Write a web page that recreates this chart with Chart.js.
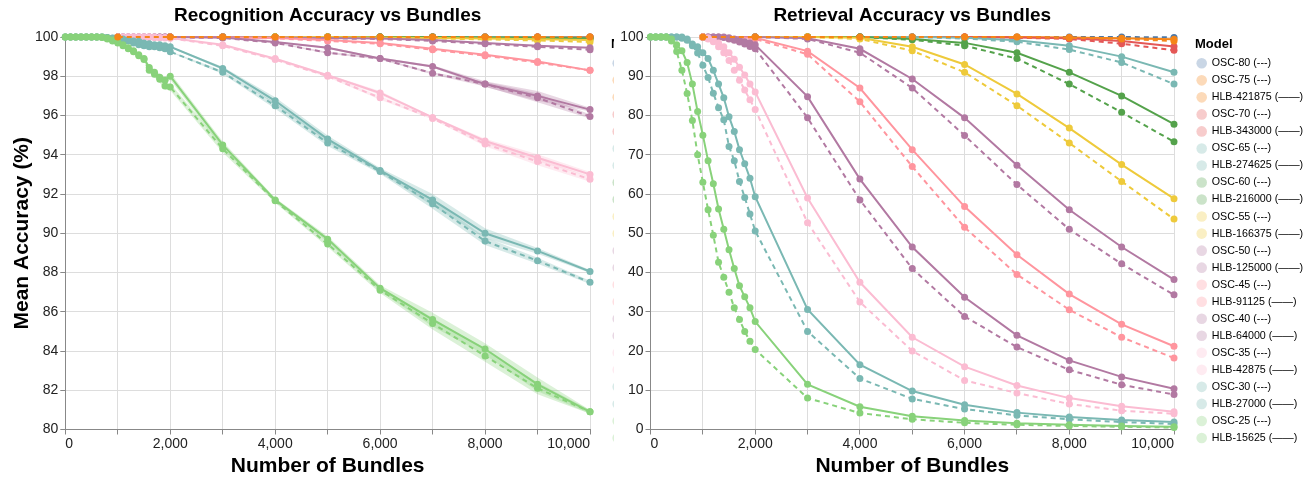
<!DOCTYPE html>
<html>
<head>
<meta charset="utf-8">
<script src="https://cdn.jsdelivr.net/npm/chart.js@4.4.1/dist/chart.umd.min.js"></script>
<style>
  html, body { margin: 0; padding: 0; background: #fff; }
  #wrap { position: relative; width: 1309px; height: 481px; }
  #rec { position: absolute; left: 0; top: 0; }
  #ret { position: absolute; left: 614px; top: 0; }
</style>
</head>
<body>
<div id="wrap">
  <canvas id="rec" width="614" height="481"></canvas>
  <canvas id="ret" width="695" height="481"></canvas>
</div>
<script>
// x positions (number of bundles)
const xDense = [0,100,200,300,400,500,600,700,800,900,1000,1100,1200,1300,1400,1500,1600,1700,1800,1900,2000,3000,4000,5000,6000,7000,8000,9000,10000];
const xMid = [1000,1100,1200,1300,1400,1500,1600,1700,1800,1900,2000,3000,4000,5000,6000,7000,8000,9000,10000];
const xCoarse = [1000,2000,3000,4000,5000,6000,7000,8000,9000,10000];

// recognition / retrieval accuracy (%)
const recOSC80 = [100,100,100,100,100,100,100,100,100,100];
const retOSC80 = [100,100,100,100,100,100,100,100,100,99.9];
const recOSC75 = [100,100,100,100,100,100,100,100,100,100];
const retOSC75 = [100,100,100,100,100,100,100,99.8,99.5,99.0];
const recHLB421875 = [100,100,100,100,100,100,100,100,100,100];
const retHLB421875 = [100,100,100,100,100,100,100,99.9,99.7,99.4];
const recOSC70 = [100,100,100,100,100,100,100,100,100,99.98];
const retOSC70 = [100,100,100,100,100,100,99.8,99.5,98.3,96.6];
const recHLB343000 = [100,100,100,100,100,100,100,100,100,100];
const retHLB343000 = [100,100,100,100,100,100,99.9,99.7,99.0,97.6];
const recOSC65 = [100,100,100,100,100,100,100,100,99.98,99.95];
const retOSC65 = [100,100,100,100,100,99.6,98.8,96.8,93.5,88.0];
const recHLB274625 = [100,100,100,100,100,100,100,100,99.99,99.97];
const retHLB274625 = [100,100,100,100,100,99.8,99.2,97.8,95.0,91.0];
const recOSC60 = [100,100,100,100,100,100,99.99,99.97,99.95,99.9];
const retOSC60 = [100,100,100,100,99.3,97.8,94.5,88.0,80.8,73.3];
const recHLB216000 = [100,100,100,100,100,100,100,99.98,99.96,99.93];
const retHLB216000 = [100,100,100,100,99.5,98.5,96.0,91.0,85.0,77.8];
const recOSC55 = [100,100,100,100,99.99,99.97,99.93,99.88,99.82,99.75];
const retOSC55 = [100,100,100,99.5,96.5,91.0,82.5,73.0,63.2,53.6];
const recHLB166375 = [100,100,100,100,100,99.98,99.95,99.92,99.88,99.85];
const retHLB166375 = [100,100,100,99.8,97.5,93.0,85.5,76.8,67.5,58.8];
const recOSC50 = [100,100,100,99.97,99.93,99.9,99.8,99.65,99.5,99.35];
const retOSC50 = [100,100,99.5,96.0,87.0,74.9,62.4,51.0,42.2,34.3];
const recHLB125000 = [100,100,100,99.98,99.95,99.92,99.85,99.7,99.55,99.45];
const retHLB125000 = [100,100,99.7,97.0,89.3,79.4,67.3,56.0,46.5,38.2];
const recOSC45 = [100,100,99.97,99.93,99.8,99.65,99.35,99.05,98.7,98.3];
const retOSC45 = [100,99.5,95.6,83.5,67.0,51.5,39.5,30.5,23.5,18.2];
const recHLB91125 = [100,100,99.98,99.95,99.85,99.7,99.4,99.1,98.75,98.3];
const retHLB91125 = [100,99.8,96.4,87.0,71.3,56.8,44.5,34.5,26.8,21.2];
const recOSC40 = [100,100,100,100,100,100,100,100,100,100,99.98,99.95,99.7,99.2,98.9,98.15,97.6,96.9,95.95];
const retOSC40 = [100,100,100,100,99.9,99.5,99.2,98.7,98.2,97.6,97.0,79.4,58.5,41.0,28.8,21.0,15.2,11.4,8.9];
const recHLB64000 = [100,100,100,100,100,100,100,100,100,100,100,99.98,99.75,99.45,98.9,98.5,97.6,97.0,96.3];
const retHLB64000 = [100,100,100,100,100,99.8,99.5,99.2,98.8,98.5,98.0,84.8,63.8,46.5,33.7,24.0,17.6,13.4,10.4];
const recOSC35 = [100,100,100,100,100,100,100,99.98,99.96,99.95,99.93,99.55,98.85,98.0,96.9,95.85,94.55,93.65,92.75];
const retOSC35 = [100,99.5,98.8,97.5,96.0,94.0,91.5,89.0,86.5,84.0,81.5,52.7,32.5,20.0,12.5,9.3,6.5,4.8,4.0];
const recHLB42875 = [100,100,100,100,100,100,100,100,99.98,99.97,99.95,99.6,98.9,98.05,97.15,95.9,94.7,93.85,93.0];
const retHLB42875 = [100,99.8,99.3,98.5,97.5,96.0,94.3,92.3,90.3,88.0,86.0,59.0,37.5,23.5,16.0,11.2,8.0,5.9,4.5];
const recOSC30 = [100,100,100,100,100,100,100,100,99.97,99.93,99.9,99.85,99.8,99.7,99.6,99.55,99.5,99.5,99.45,99.4,99.25,98.2,96.5,94.6,93.15,91.5,89.6,88.6,87.5];
const retOSC30 = [100,100,100,100,100,100,99.7,99.2,97.8,95.9,92.8,89.7,85.7,82.0,78.9,72.1,68.5,63.2,59.1,54.9,50.6,25.0,13.0,7.8,5.2,3.6,2.6,1.9,1.4];
const recHLB27000 = [100,100,100,100,100,100,100,100,99.98,99.95,99.92,99.9,99.85,99.8,99.78,99.7,99.65,99.6,99.6,99.55,99.5,98.4,96.75,94.8,93.2,91.7,90.0,89.1,88.05];
const retHLB27000 = [100,100,100,100,100,100,100,99.5,98.2,97.5,96.0,94.5,91.5,88.0,84.5,79.7,75.9,71.3,67.7,64.0,59.3,30.6,16.5,9.8,6.3,4.3,3.2,2.4,1.9];
const recOSC25 = [100,100,100,100,100,100,100,99.98,99.9,99.8,99.7,99.55,99.4,99.25,99.05,98.85,98.3,98.1,97.85,97.5,97.45,94.3,91.65,89.45,87.1,85.4,83.75,82.1,80.9];
const retOSC25 = [100,100,100,100,99.0,96.3,91.5,85.6,78.7,70.0,63.0,56.0,49.5,42.6,38.8,35.0,31.0,28.0,25.0,22.5,20.4,8.0,4.2,2.6,1.7,1.2,0.9,0.7,0.5];
const recHLB15625 = [100,100,100,100,100,100,100,100,99.95,99.85,99.75,99.6,99.45,99.3,99.1,98.9,98.45,98.2,97.95,97.8,98.0,94.5,91.7,89.7,87.2,85.6,84.1,82.3,80.9];
const retHLB15625 = [100,100,100,100,99.5,98.0,96.5,93.5,88.0,81.0,75.0,68.5,62.6,56.2,51.0,45.8,41.0,36.6,33.8,31.0,27.5,11.5,5.8,3.4,2.3,1.6,1.2,0.9,0.7];

// half-width of the shaded spread band (recognition panel), same x as the series
const spreadRecOSC40 = [0,0,0,0,0,0,0,0,0,0,0,0,0.02,0.05,0.05,0.06,0.12,0.22,0.1];
const spreadRecHLB64000 = [0,0,0,0,0,0,0,0,0,0,0,0,0.02,0.05,0.05,0.06,0.15,0.25,0.1];
const spreadRecOSC35 = [0,0,0,0,0,0,0,0,0,0,0,0.02,0.05,0.05,0.1,0.05,0.12,0.18,0.12];
const spreadRecHLB42875 = [0,0,0,0,0,0,0,0,0,0,0,0.02,0.05,0.05,0.1,0.05,0.12,0.18,0.12];
const spreadRecOSC30 = [0,0,0,0,0,0,0,0,0,0,0,0,0,0,0,0,0,0,0,0,0.03,0.08,0.15,0.15,0.12,0.25,0.2,0.15,0.08];
const spreadRecHLB27000 = [0,0,0,0,0,0,0,0,0,0,0,0,0,0,0,0,0,0,0,0,0.03,0.08,0.18,0.18,0.12,0.3,0.25,0.15,0.08];
const spreadRecOSC25 = [0,0,0,0,0,0,0,0,0,0,0,0,0,0,0,0.08,0.12,0.15,0.18,0.18,0.18,0.18,0.1,0.15,0.15,0.3,0.3,0.3,0.1];
const spreadRecHLB15625 = [0,0,0,0,0,0,0,0,0,0,0,0,0,0,0,0.08,0.12,0.15,0.18,0.18,0.18,0.18,0.1,0.15,0.15,0.35,0.3,0.35,0.1];

// top: true -> drawn above every other series (orange dashes on the 100% line)
const series = [
  { name: 'OSC-80', x: xCoarse, rec: recOSC80, ret: retOSC80, color: '#4c78a8', dash: true },
  { name: 'OSC-75', x: xCoarse, rec: recOSC75, ret: retOSC75, color: '#f58518', dash: true, top: true },
  { name: 'HLB-421875', x: xCoarse, rec: recHLB421875, ret: retHLB421875, color: '#f58518', dash: false },
  { name: 'OSC-70', x: xCoarse, rec: recOSC70, ret: retOSC70, color: '#e45756', dash: true },
  { name: 'HLB-343000', x: xCoarse, rec: recHLB343000, ret: retHLB343000, color: '#e45756', dash: false },
  { name: 'OSC-65', x: xCoarse, rec: recOSC65, ret: retOSC65, color: '#7ab8b3', dash: true },
  { name: 'HLB-274625', x: xCoarse, rec: recHLB274625, ret: retHLB274625, color: '#7ab8b3', dash: false },
  { name: 'OSC-60', x: xCoarse, rec: recOSC60, ret: retOSC60, color: '#54a24b', dash: true },
  { name: 'HLB-216000', x: xCoarse, rec: recHLB216000, ret: retHLB216000, color: '#54a24b', dash: false },
  { name: 'OSC-55', x: xCoarse, rec: recOSC55, ret: retOSC55, color: '#eeca3b', dash: true },
  { name: 'HLB-166375', x: xCoarse, rec: recHLB166375, ret: retHLB166375, color: '#eeca3b', dash: false },
  { name: 'OSC-50', x: xCoarse, rec: recOSC50, ret: retOSC50, color: '#b279a2', dash: true },
  { name: 'HLB-125000', x: xCoarse, rec: recHLB125000, ret: retHLB125000, color: '#b279a2', dash: false },
  { name: 'OSC-45', x: xCoarse, rec: recOSC45, ret: retOSC45, color: '#ff959e', dash: true },
  { name: 'HLB-91125', x: xCoarse, rec: recHLB91125, ret: retHLB91125, color: '#ff959e', dash: false },
  { name: 'OSC-40', x: xMid, rec: recOSC40, ret: retOSC40, color: '#b279a2', dash: true, band: spreadRecOSC40 },
  { name: 'HLB-64000', x: xMid, rec: recHLB64000, ret: retHLB64000, color: '#b279a2', dash: false, band: spreadRecHLB64000 },
  { name: 'OSC-35', x: xMid, rec: recOSC35, ret: retOSC35, color: '#fbbcd2', dash: true, band: spreadRecOSC35 },
  { name: 'HLB-42875', x: xMid, rec: recHLB42875, ret: retHLB42875, color: '#fbbcd2', dash: false, band: spreadRecHLB42875 },
  { name: 'OSC-30', x: xDense, rec: recOSC30, ret: retOSC30, color: '#7ab8b3', dash: true, band: spreadRecOSC30 },
  { name: 'HLB-27000', x: xDense, rec: recHLB27000, ret: retHLB27000, color: '#7ab8b3', dash: false, band: spreadRecHLB27000 },
  { name: 'OSC-25', x: xDense, rec: recOSC25, ret: retOSC25, color: '#88d27a', dash: true, band: spreadRecOSC25 },
  { name: 'HLB-15625', x: xDense, rec: recHLB15625, ret: retHLB15625, color: '#88d27a', dash: false, band: spreadRecHLB15625 }
];

const FONT = '"Liberation Sans", Arial, Helvetica, sans-serif';
Chart.defaults.font.family = FONT;
Chart.defaults.color = '#000';

function fade(hex, a) {
  const n = parseInt(hex.slice(1), 16);
  return 'rgba(' + (n >> 16) + ',' + ((n >> 8) & 255) + ',' + (n & 255) + ',' + a + ')';
}

function makeSets(key) {
  const sets = [];
  series.forEach((s, idx) => {
    // spread band behind the lines (recognition panel only)
    if (key === 'rec' && s.band) {
      sets.push({
        label: s.name + ' hi',
        data: s.x.map((x, i) => ({ x: x, y: s.rec[i] + s.band[i] })),
        borderWidth: 0, pointRadius: 0, backgroundColor: fade(s.color, 0.3),
        fill: '+1', order: 100, clip: false
      });
      sets.push({
        label: s.name + ' lo',
        data: s.x.map((x, i) => ({ x: x, y: s.rec[i] - s.band[i] })),
        borderWidth: 0, pointRadius: 0, backgroundColor: 'rgba(0,0,0,0)',
        fill: false, order: 100, clip: false
      });
    }
    sets.push({
      label: s.name,
      data: s.x.map((x, i) => ({ x: x, y: s[key][i] })),
      borderColor: s.color,
      backgroundColor: s.color,
      borderWidth: 2,
      borderDash: s.dash ? [5, 4] : [],
      pointRadius: 3.5,
      pointHoverRadius: 3.5,
      pointBorderWidth: 0,
      pointBackgroundColor: s.color,
      tension: 0,
      fill: false,
      clip: false,
      order: s.top ? 0 : series.length - idx   // later models drawn on top
    });
  });
  return sets;
}

// titles + "Model" legend (the left one gets cut by the canvas edge, like the original)
const panelDecor = {
  id: 'panelDecor',
  afterDraw(chart, args, opts) {
    const ctx = chart.ctx;
    const a = chart.chartArea;
    ctx.save();
    ctx.fillStyle = '#000';
    ctx.textBaseline = 'middle';
    ctx.textAlign = 'center';
    ctx.font = 'bold 19px ' + FONT;
    ctx.fillText(opts.title, (a.left + a.right) / 2, 16);

    const lx = a.right + 21;
    ctx.textAlign = 'left';
    ctx.font = 'bold 13px ' + FONT;
    ctx.fillText('Model', lx, 44.5);
    ctx.font = '10.7px ' + FONT;
    series.forEach((s, i) => {
      const y = 63.3 + i * 17.03;
      ctx.fillStyle = fade(s.color, 0.3);
      ctx.beginPath();
      ctx.arc(lx + 6.7, y, 5.3, 0, Math.PI * 2);
      ctx.fill();
      ctx.fillStyle = '#000';
      ctx.fillText(s.name + (s.dash ? ' (---)' : ' (——)'), lx + 16.7, y);
    });
    ctx.restore();
  }
};

function makeOptions(title, yMin, yStep, yWidth, yTitle, padRight) {
  return {
    responsive: false,
    animation: false,
    events: [],
    layout: { padding: { left: 0, right: padRight, top: 37, bottom: 0 } },
    plugins: {
      legend: { display: false },
      tooltip: { enabled: false },
      panelDecor: { title: title }
    },
    scales: {
      x: {
        type: 'linear',
        min: 0,
        max: 10000,
        afterFit: s => { s.height = 51.5; },
        grid: { color: '#ddd', lineWidth: 1, tickLength: 5, tickColor: '#888' },
        border: { color: '#888', width: 1 },
        ticks: {
          stepSize: 1000,
          autoSkip: false,
          maxRotation: 0,
          align: 'inner',
          padding: 1,
          color: '#222',
          font: { size: 14 },
          callback: v => (v % 2000 === 0 ? v.toLocaleString('en-US') : '')
        },
        title: {
          display: true,
          text: 'Number of Bundles',
          font: { size: 21, weight: 'bold' },
          padding: { top: 0, bottom: 2.4 }
        }
      },
      y: {
        type: 'linear',
        min: yMin,
        max: 100,
        afterFit: s => { s.width = yWidth; },
        grid: { color: '#ddd', lineWidth: 1, tickLength: 5, tickColor: '#888' },
        border: { color: '#888', width: 1 },
        ticks: { stepSize: yStep, padding: 2, color: '#222', font: { size: 14 } },
        title: {
          display: yTitle !== '',
          text: yTitle,
          font: { size: 21, weight: 'bold' },
          padding: { top: 9.4, bottom: 0 }
        }
      }
    }
  };
}

const recChart = new Chart(document.getElementById('rec'), {
  type: 'line',
  data: { datasets: makeSets('rec') },
  options: makeOptions('Recognition Accuracy vs Bundles', 80, 2, 65.3, 'Mean Accuracy (%)', 24),
  plugins: [panelDecor]
});

const retChart = new Chart(document.getElementById('ret'), {
  type: 'line',
  data: { datasets: makeSets('ret') },
  options: makeOptions('Retrieval Accuracy vs Bundles', 0, 10, 36.5, '', 135),
  plugins: [panelDecor]
});
</script>
</body>
</html>
